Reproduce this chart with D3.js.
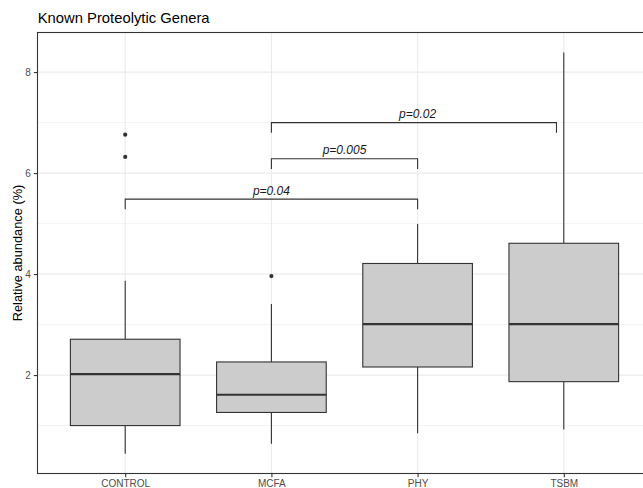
<!DOCTYPE html>
<html>
<head>
<meta charset="utf-8">
<script src="https://cdn.jsdelivr.net/npm/d3@7"></script>
<style>
  body { margin: 0; background: #fff; }
  svg { display: block; font-family: "Liberation Sans", Arial, sans-serif; }
</style>
</head>
<body>
<svg id="chart" width="643" height="488"></svg>
<script>
// data
const groups = ["CONTROL", "MCFA", "PHY", "TSBM"];
const lowerWhisker = [0.44, 0.64, 0.85, 0.92];
const q1 = [1.00, 1.26, 2.16, 1.87];
const medians = [2.02, 1.61, 3.01, 3.01];
const q3 = [2.71, 2.26, 4.21, 4.61];
const upperWhisker = [3.87, 3.41, 4.99, 8.39];
const outlierGroup = ["CONTROL", "CONTROL", "MCFA"];
const outlierValue = [6.32, 6.76, 3.96];

// significance brackets (x as group position, 1 = CONTROL)
const compFrom = [1, 2, 2];
const compTo = [3, 3, 3.95];
const compY = [5.485, 6.283, 7.0];
const compLabelX = [2, 2.5, 3];
const compLabel = ["p=0.04", "p=0.005", "p=0.02"];
const tipLength = 0.2;

const yTicks = [2, 4, 6, 8];
const yMinor = [1, 3, 5, 7];

const panel = { left: 37.5, top: 32.5, right: 651.5, bottom: 473.5 };

const chart = d3.select("#chart");

// Scales
const x = d3.scalePoint()
      .domain(groups)
      .range([panel.left, panel.right])
      .padding(0.6);

const xPos = d3.scaleLinear()
      .domain([0.4, groups.length + 0.6])
      .range([panel.left, panel.right]);

const y = d3.scaleLinear()
      .domain([0.051, 8.784])
      .range([panel.bottom, panel.top]);

const boxWidth = x.step() * 0.75;

// grid
const grid = chart.append("g");
grid.selectAll(".minor").data(yMinor).enter()
      .append("line")
      .attr("x1", panel.left).attr("x2", panel.right)
      .attr("y1", d => y(d)).attr("y2", d => y(d))
      .attr("stroke", "#ebebeb").attr("stroke-width", 0.6);
grid.selectAll(".major").data(yTicks).enter()
      .append("line")
      .attr("x1", panel.left).attr("x2", panel.right)
      .attr("y1", d => y(d)).attr("y2", d => y(d))
      .attr("stroke", "#ebebeb").attr("stroke-width", 1.1);
grid.selectAll(".vmajor").data(groups).enter()
      .append("line")
      .attr("x1", d => x(d)).attr("x2", d => x(d))
      .attr("y1", panel.top).attr("y2", panel.bottom)
      .attr("stroke", "#ebebeb").attr("stroke-width", 1.1);

// boxes
const boxes = chart.append("g");
groups.forEach((g, i) => {
      const cx = x(g);
      boxes.append("line")
            .attr("x1", cx).attr("x2", cx)
            .attr("y1", y(q3[i])).attr("y2", y(upperWhisker[i]))
            .attr("stroke", "#333").attr("stroke-width", 1.1);
      boxes.append("line")
            .attr("x1", cx).attr("x2", cx)
            .attr("y1", y(q1[i])).attr("y2", y(lowerWhisker[i]))
            .attr("stroke", "#333").attr("stroke-width", 1.1);
      boxes.append("rect")
            .attr("x", cx - boxWidth / 2)
            .attr("y", y(q3[i]))
            .attr("width", boxWidth)
            .attr("height", y(q1[i]) - y(q3[i]))
            .attr("fill", "#cccccc")
            .attr("stroke", "#333").attr("stroke-width", 1.1);
      boxes.append("line")
            .attr("x1", cx - boxWidth / 2).attr("x2", cx + boxWidth / 2)
            .attr("y1", y(medians[i])).attr("y2", y(medians[i]))
            .attr("stroke", "#333").attr("stroke-width", 2.2);
});

boxes.selectAll("circle").data(outlierValue).enter()
      .append("circle")
      .attr("cx", (d, i) => x(outlierGroup[i]))
      .attr("cy", d => y(d))
      .attr("r", 2.1)
      .attr("fill", "#333");

// brackets
const brackets = chart.append("g");
compLabel.forEach((lab, i) => {
      const x1 = xPos(compFrom[i]), x2 = xPos(compTo[i]);
      const yTop = y(compY[i]), yTip = y(compY[i] - tipLength);
      brackets.append("path")
            .attr("d", `M${x1},${yTip}V${yTop}H${x2}V${yTip}`)
            .attr("fill", "none")
            .attr("stroke", "#333").attr("stroke-width", 1.1);
      brackets.append("text")
            .attr("x", xPos(compLabelX[i]))
            .attr("y", yTop - 4.5)
            .attr("text-anchor", "middle")
            .attr("font-size", "12px")
            .attr("font-style", "italic")
            .attr("fill", "#1a1a1a")
            .text(lab);
});

// panel border
chart.append("rect")
      .attr("x", panel.left).attr("y", panel.top)
      .attr("width", panel.right - panel.left)
      .attr("height", panel.bottom - panel.top)
      .attr("fill", "none")
      .attr("stroke", "#333").attr("stroke-width", 1.1);

// axes
const yAxis = d3.axisLeft(y).tickValues(yTicks).tickSize(3.7).tickPadding(2.9);
const yAxisG = chart.append("g")
      .attr("transform", `translate(${panel.left},0)`)
      .call(yAxis);
const xAxis = d3.axisBottom(x).tickSize(3.7).tickPadding(2.5);
const xAxisG = chart.append("g")
      .attr("transform", `translate(0,${panel.bottom})`)
      .call(xAxis);

[yAxisG, xAxisG].forEach(a => {
      a.select(".domain").remove();
      a.selectAll(".tick line").attr("stroke", "#333").attr("stroke-width", 1.1);
      a.selectAll(".tick text")
            .attr("fill", "#4d4d4d")
            .attr("font-size", "10px")
            .attr("font-family", "Liberation Sans, Arial, sans-serif");
});

// titles
chart.append("text")
      .attr("x", 37.7)
      .attr("y", 23.3)
      .attr("font-size", "14.8px")
      .attr("fill", "#000")
      .text("Known Proteolytic Genera");

chart.append("text")
      .attr("transform", `translate(21.7,${(panel.top + panel.bottom) / 2}) rotate(-90)`)
      .attr("text-anchor", "middle")
      .attr("font-size", "12.8px")
      .attr("fill", "#000")
      .text("Relative abundance (%)");
</script>
</body>
</html>
